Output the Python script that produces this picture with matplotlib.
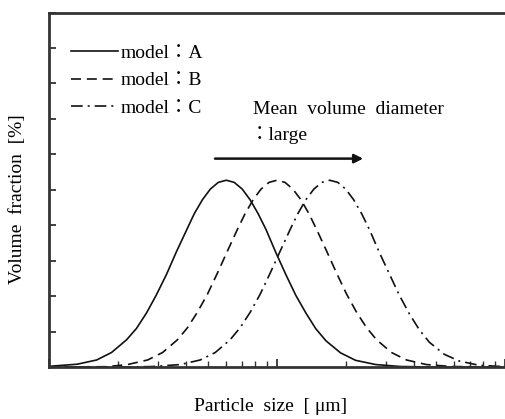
import numpy as np
import matplotlib.pyplot as plt

# Particle size [um] and volume fraction [%]
size_a = [1.0, 1.33, 1.62, 1.88, 2.19, 2.42, 2.68, 2.96, 3.28, 3.62, 4.01, 4.34,
          4.71, 5.10, 5.53, 5.99, 6.49, 7.04, 7.62, 8.26, 8.95, 9.90, 10.95,
          12.1, 13.4, 14.8, 16.4, 19.0, 22.1, 27.1, 34.8, 50.0, 100.0]
frac_a = [0.02, 0.08, 0.20, 0.41, 0.77, 1.09, 1.53, 2.04, 2.62, 3.25, 3.86, 4.33,
          4.72, 5.02, 5.21, 5.27, 5.21, 5.02, 4.72, 4.33, 3.88, 3.22, 2.60,
          2.02, 1.52, 1.08, 0.74, 0.40, 0.19, 0.07, 0.015, 0.0, 0.0]

size_b = [1.0, 1.8, 2.21, 2.71, 3.15, 3.66, 4.05, 4.47, 4.95, 5.47, 6.05, 6.69,
          7.25, 7.86, 8.51, 9.23, 10.0, 10.84, 11.74, 12.73, 13.8, 14.95, 16.54,
          18.28, 20.22, 22.36, 24.72, 27.33, 31.78, 36.96, 45.2, 58.1, 100.0]
frac_b = [0.0, 0.01, 0.07, 0.20, 0.41, 0.77, 1.11, 1.54, 2.05, 2.64, 3.26, 3.87,
          4.33, 4.72, 5.02, 5.21, 5.27, 5.21, 5.02, 4.72, 4.33, 3.87, 3.26,
          2.64, 2.05, 1.54, 1.11, 0.77, 0.41, 0.20, 0.07, 0.015, 0.0]

size_c = [1.0, 2.2, 2.85, 3.77, 4.61, 5.36, 6.23, 6.89, 7.62, 8.43, 9.32, 10.31,
          11.4, 12.35, 13.38, 14.51, 15.72, 17.03, 18.47, 20.01, 21.69, 23.5,
          25.47, 28.17, 31.14, 34.44, 38.08, 42.11, 46.57, 54.16, 62.98, 76.98, 100.0]
frac_c = [0.0, 0.0, 0.015, 0.07, 0.20, 0.41, 0.77, 1.11, 1.54, 2.05, 2.64, 3.26,
          3.87, 4.33, 4.72, 5.02, 5.21, 5.27, 5.21, 5.02, 4.72, 4.33,
          3.87, 3.22, 2.62, 2.02, 1.50, 1.05, 0.70, 0.36, 0.17, 0.05, 0.01]

labels = ['model\uff1aA', 'model\uff1aB', 'model\uff1aC']

fam = ['Liberation Serif', 'Noto Sans CJK JP', 'DejaVu Serif']
plt.rcParams['font.family'] = fam
fs = 14

fig = plt.figure(figsize=(5.05, 4.19), dpi=100)
ax = fig.add_axes([0.097, 0.124, 0.903, 0.846])

lw = 1.2
ax.plot(size_a, frac_a, color='#111111', lw=lw, label=labels[0])
ax.plot(size_b, frac_b, color='#111111', lw=lw, dashes=(6, 3.5), label=labels[1])
ax.plot(size_c, frac_c, color='#111111', lw=lw, dashes=(7, 3, 1.2, 3), label=labels[2])

ax.set_xscale('log')
ax.set_xlim(1, 100)
ax.set_ylim(0, 10)
ax.set_yticks(np.arange(0, 11, 1))
ax.set_xticklabels([])
ax.set_yticklabels([])
ax.xaxis.set_minor_formatter(plt.NullFormatter())
ax.tick_params(axis='both', which='major', direction='in', length=6, width=1.3,
               color='#333333')
ax.tick_params(axis='x', which='minor', direction='in', length=4.5, width=1.0,
               color='#333333')
ax.tick_params(axis='y', which='major', length=5)

for s in ['left', 'bottom', 'top']:
    ax.spines[s].set_linewidth(2.0)
    ax.spines[s].set_color('#333333')
ax.spines['right'].set_visible(False)

leg = ax.legend(loc='upper left', bbox_to_anchor=(0.048, 0.91), frameon=False,
                fontsize=fs, handlelength=2.4, handletextpad=0.15,
                labelspacing=0.5, borderaxespad=0, borderpad=0)

ax.annotate('', xy=(0.689, 0.588), xytext=(0.364, 0.588), xycoords='axes fraction',
            arrowprops=dict(arrowstyle='-|>', color='#111111', lw=1.8,
                            mutation_scale=13, shrinkA=0, shrinkB=0))
ax.text(0.447, 0.726, 'Mean  volume  diameter', transform=ax.transAxes,
        fontsize=fs, va='center', ha='left')
ax.text(0.44, 0.655, '\uff1alarge', transform=ax.transAxes,
        fontsize=fs, va='center', ha='left')

fig.text(0.034, 0.525, 'Volume  fraction  [%]', rotation=90, fontsize=fs,
         ha='center', va='center')
fig.text(0.535, 0.029, 'Particle  size  [ \u03bcm]', fontsize=fs,
         ha='center', va='center')

fig.savefig('out.png', dpi=100)
